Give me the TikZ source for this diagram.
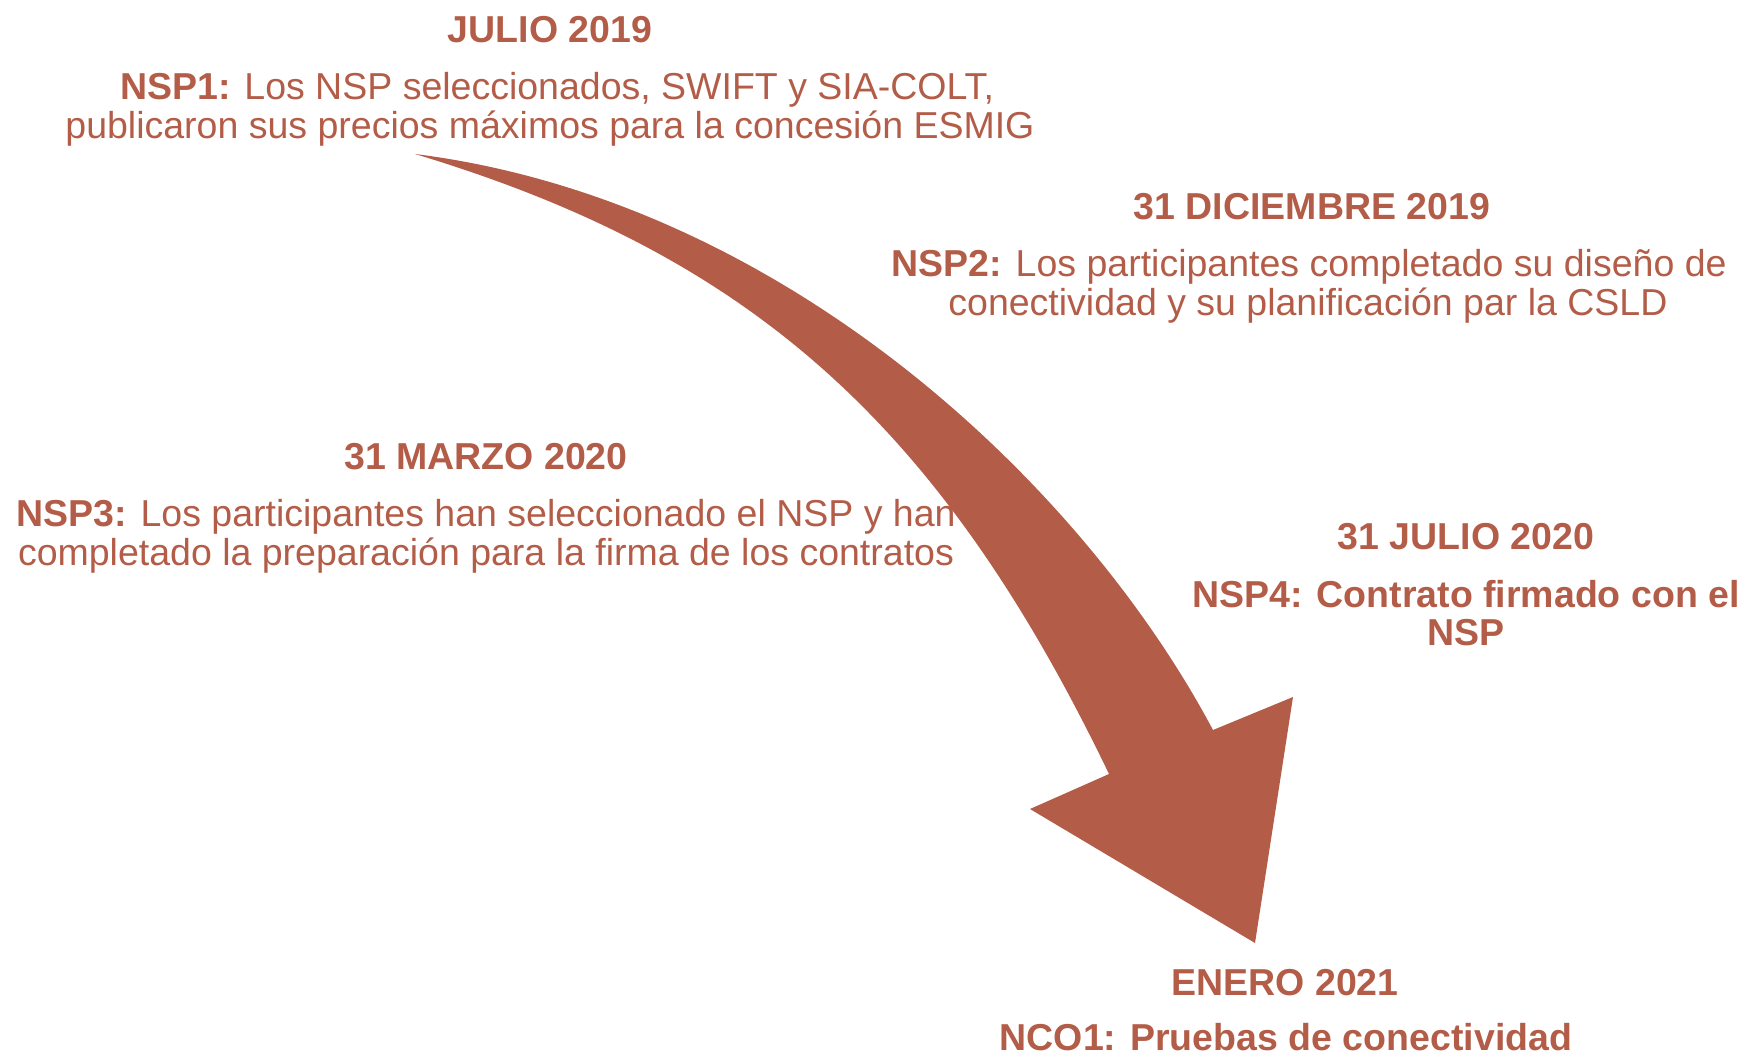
\documentclass[tikz,border=0pt]{standalone}
\usepackage{fontspec}
\setmainfont{Liberation Sans}
\definecolor{accent}{RGB}{179,93,72}
\begin{document}
\begin{tikzpicture}[x=1pt,y=-1pt,
  lbl/.style={text=accent, font=\fontsize{37.5}{40}\selectfont, inner sep=0pt, anchor=base},
  hdr/.style={lbl, font=\fontsize{37.5}{40}\selectfont\bfseries}]
\useasboundingbox (0,0) rectangle (1745,1054);

% arrow
\coordinate (tail) at (415,154);
\coordinate (rs) at (1213,730);
\coordinate (rb) at (1293,697);
\coordinate (tip) at (1255,943);
\coordinate (lb) at (1030,809);
\coordinate (ls) at (1109,774);
\fill[accent] (tail) .. controls (780,200) and (1080,480) .. (rs)
  -- (rb) -- (tip) -- (lb) -- (ls)
  .. controls (940,423) and (750,255) .. (tail) -- cycle;

% texts
\node[hdr] (h1) at (550,43) {JULIO 2019};
\node[lbl] (t1a) at (557,100) {\textbf{NSP1:} Los NSP seleccionados, SWIFT y SIA-COLT,};
\node[lbl] (t1b) at (550,139) {publicaron sus precios máximos para la concesión ESMIG};

\node[hdr] (h2) at (1312,219) {31 DICIEMBRE 2019};
\node[lbl] (t2a) at (1309,276) {\textbf{NSP2:} Los participantes completado su diseño de};
\node[lbl] (t2b) at (1308,315) {conectividad y su planificación par la CSLD};

\node[hdr] (h3) at (486,469) {31 MARZO 2020};
\node[lbl] (t3a) at (486,526) {\textbf{NSP3:} Los participantes han seleccionado el NSP y han};
\node[lbl] (t3b) at (486,565) {completado la preparación para la firma de los contratos};

\node[hdr] (h4) at (1466,549) {31 JULIO 2020};
\node[hdr] (t4a) at (1466,607) {NSP4: Contrato firmado con el};
\node[hdr] (t4b) at (1466,645) {NSP};

\node[hdr] (h5) at (1285,995) {ENERO 2021};
\node[hdr] (t5) at (1286,1050) {NCO1: Pruebas de conectividad};
\end{tikzpicture}
\end{document}
